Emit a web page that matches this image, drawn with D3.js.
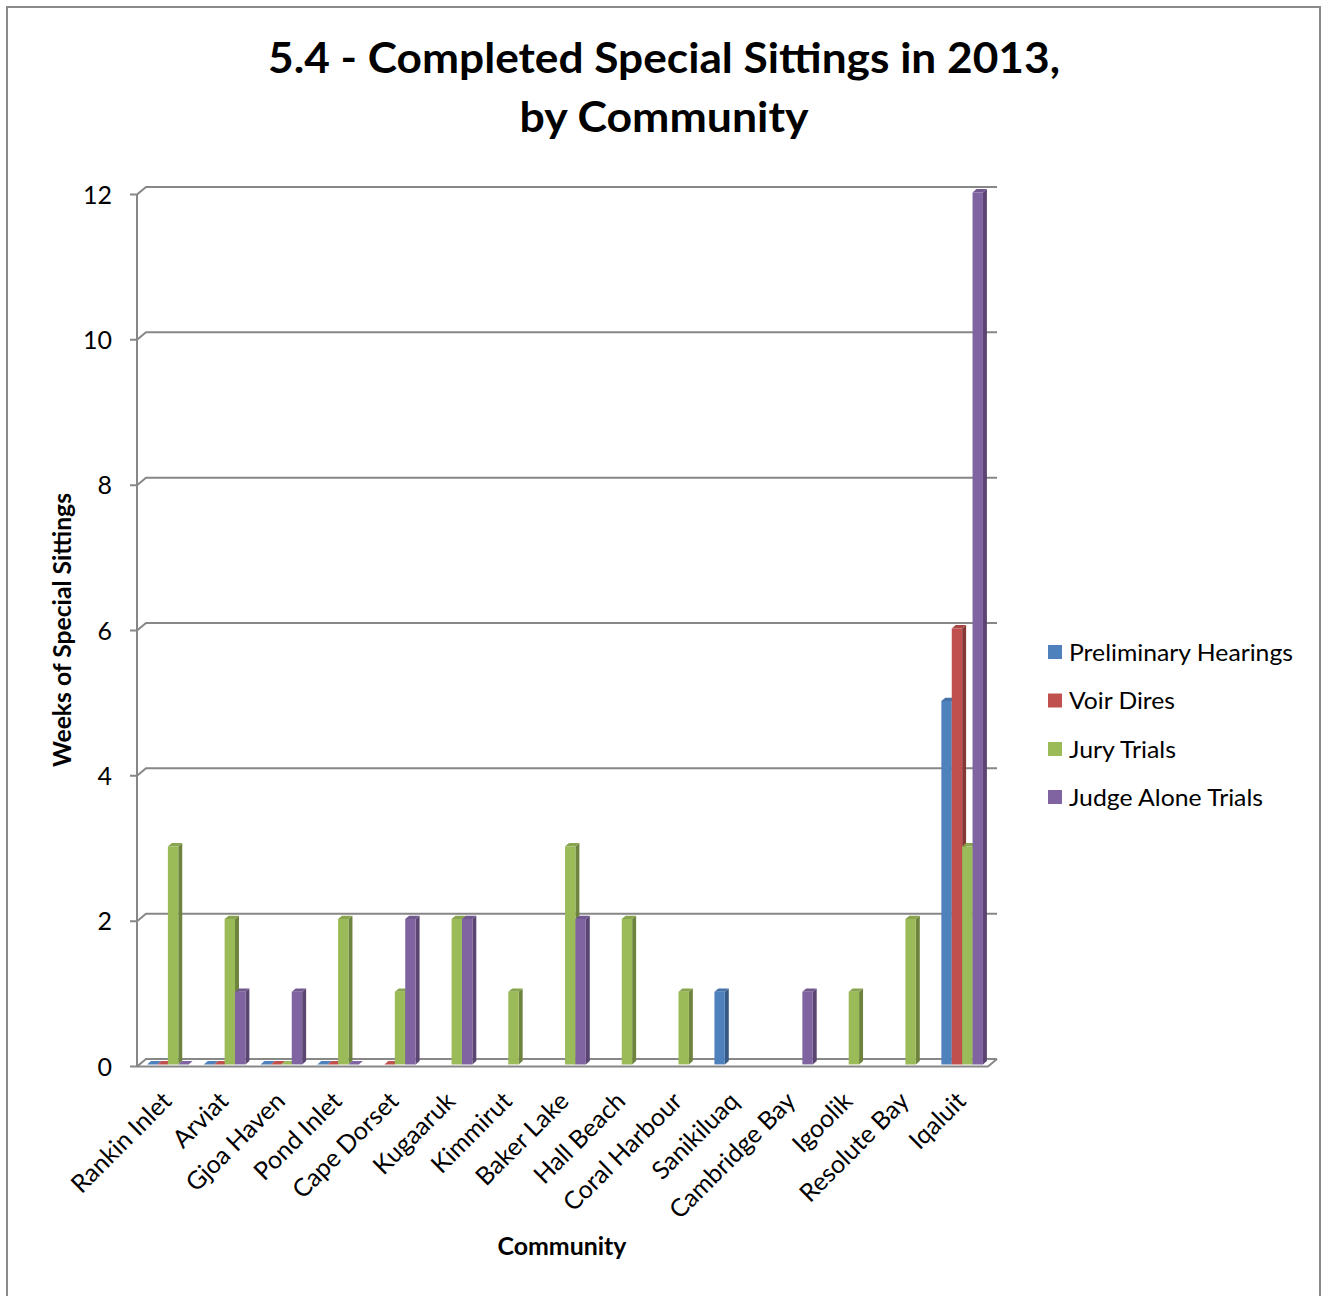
<!DOCTYPE html>
<html>
<head>
<meta charset="utf-8">
<script src="https://cdn.jsdelivr.net/npm/d3@7"></script>
<style>
  html, body { margin: 0; padding: 0; background: #fff; }
  svg { display: block; }
  text { font-family: Lato, "Open Sans", sans-serif; fill: #000; }
</style>
</head>
<body>
<svg id="chart" width="1325" height="1296"></svg>
<script>
// Weeks of completed special sittings in 2013, by community and sitting type
const categories = ["Rankin Inlet", "Arviat", "Gjoa Haven", "Pond Inlet", "Cape Dorset",
  "Kugaaruk", "Kimmirut", "Baker Lake", "Hall Beach", "Coral Harbour", "Sanikiluaq",
  "Cambridge Bay", "Igoolik", "Resolute Bay", "Iqaluit"];
const seriesNames = ["Preliminary Hearings", "Voir Dires", "Jury Trials", "Judge Alone Trials"];
const preliminaryHearings = [0, 0, 0, 0, null, null, null, null, null, null, 1, null, null, null, 5];
const voirDires = [0, 0, 0, 0, 0, null, null, null, null, null, null, null, null, null, 6];
const juryTrials = [3, 2, 0, 2, 1, 2, 1, 3, 2, 1, null, null, 1, 2, 3];
const judgeAloneTrials = [0, 1, 1, 0, 2, 2, null, 2, null, null, null, 1, null, null, 12];
const yTicks = [0, 2, 4, 6, 8, 10, 12];
const seriesColors = ["#4F81BD", "#C0504D", "#9BBB59", "#8064A2"];

const seriesValues = [preliminaryHearings, voirDires, juryTrials, judgeAloneTrials];

const svg = d3.select("#chart");

// outer chart border
svg.append("rect")
  .attr("x", 7).attr("y", 7).attr("width", 1313).attr("height", 1300)
  .attr("fill", "none").attr("stroke", "#8a8a8a").attr("stroke-width", 2);

// title
const title = svg.append("text").attr("text-anchor", "middle")
  .style("font-weight", "bold").style("font-size", "42px");
title.append("tspan").attr("x", 664).attr("y", 73)
  .attr("textLength", 792).attr("lengthAdjust", "spacingAndGlyphs")
  .text("5.4 - Completed Special Sittings in 2013,");
title.append("tspan").attr("x", 664).attr("y", 132)
  .attr("textLength", 289).attr("lengthAdjust", "spacingAndGlyphs")
  .text("by Community");

// 3-D projection: front plane coordinates plus depth offset toward the back wall
const depthX = 9, depthY = 7.5;
const x = d3.scaleBand().domain(categories).range([137, 988]);
const inner = d3.scaleBand().domain(seriesNames).range([0, x.bandwidth()]).paddingOuter(0.727);
const y = d3.scaleLinear().domain([0, 12]).range([1066.5, 194.5]);
const proj = (px, py, t) => [px + t * depthX, py - t * depthY];

const gridColor = "#878787";

// gridlines on the back wall, each joined to its front tick by a short diagonal
const grid = svg.append("g");
yTicks.forEach(v => {
  const yf = y(v);
  const back0 = proj(137, yf, 1);
  grid.append("path")
    .attr("d", `M130,${yf}L137,${yf}L${back0[0]},${back0[1]}L${988 + depthX},${back0[1]}`)
    .attr("fill", "none").attr("stroke", gridColor).attr("stroke-width", 2);
});

// left wall edge
svg.append("line")
  .attr("x1", 137).attr("x2", 137).attr("y1", y(12)).attr("y2", y(0))
  .attr("stroke", gridColor).attr("stroke-width", 2);

// y tick labels
svg.append("g").selectAll("text").data(yTicks).join("text")
  .attr("x", 112).attr("y", d => y(d)).attr("dy", "0.36em")
  .attr("text-anchor", "end").style("font-size", "25px")
  .text(d => d);

// bars: side, top, then front face, drawn left to right
const barFrontT = 0.28, barBackT = 0.72;
const bars = svg.append("g");
const poly = pts => "M" + pts.map(p => p.join(",")).join("L") + "Z";
categories.forEach((cat, ci) => {
  seriesNames.forEach((s, si) => {
    const v = seriesValues[si][ci];
    if (v === null || v === undefined) return;
    const col = d3.color(seriesColors[si]);
    const x0 = x(cat) + inner(s);
    const x1 = x0 + inner.bandwidth();
    const yb = y(0), yt = y(v);
    const fBL = proj(x0, yb, barFrontT), fBR = proj(x1, yb, barFrontT);
    const fTL = proj(x0, yt, barFrontT), fTR = proj(x1, yt, barFrontT);
    const bBR = proj(x1, yb, barBackT), bTR = proj(x1, yt, barBackT), bTL = proj(x0, yt, barBackT);
    const g = bars.append("g");
    if (v > 0) {
      g.append("path").attr("d", poly([fBR, bBR, bTR, fTR]))
        .attr("fill", col.darker(1.0));
    }
    g.append("path").attr("d", poly([fTL, fTR, bTR, bTL]))
      .attr("fill", v > 0 ? col.darker(0.35) : col);
    if (v > 0) {
      g.append("path").attr("d", poly([fBL, fBR, fTR, fTL]))
        .attr("fill", col);
    }
  });
});

// floor front edge and right edge
svg.append("path")
  .attr("d", `M137,${y(0)}L988,${y(0)}L${988 + depthX},${y(0) - depthY}`)
  .attr("fill", "none").attr("stroke", gridColor).attr("stroke-width", 2);

// category labels, rotated
svg.append("g").selectAll("text").data(categories).join("text")
  .attr("transform", d => `translate(${x(d) + x.bandwidth() / 2 - 5},1090) rotate(-45)`)
  .attr("dy", "0.72em")
  .attr("text-anchor", "end").style("font-size", "25px")
  .text(d => d);

// axis titles
svg.append("text")
  .attr("transform", "translate(71,630) rotate(-90)")
  .attr("text-anchor", "middle").style("font-weight", "bold").style("font-size", "24px")
  .attr("textLength", 274).attr("lengthAdjust", "spacingAndGlyphs")
  .text("Weeks of Special Sittings");
svg.append("text")
  .attr("x", 562).attr("y", 1255)
  .attr("text-anchor", "middle").style("font-weight", "bold").style("font-size", "24px")
  .attr("textLength", 129).attr("lengthAdjust", "spacingAndGlyphs")
  .text("Community");

// legend
const legendRows = [652, 700.5, 749, 797];
const legendWidths = [224, 106, 107, 194];
const legend = svg.append("g");
seriesNames.forEach((s, i) => {
  legend.append("rect")
    .attr("x", 1048).attr("y", legendRows[i] - 7).attr("width", 14).attr("height", 14)
    .attr("fill", seriesColors[i]);
  legend.append("text")
    .attr("x", 1069).attr("y", legendRows[i]).attr("dy", "0.36em")
    .style("font-size", "24px")
    .attr("textLength", legendWidths[i]).attr("lengthAdjust", "spacingAndGlyphs")
    .text(s);
});
</script>
</body>
</html>
